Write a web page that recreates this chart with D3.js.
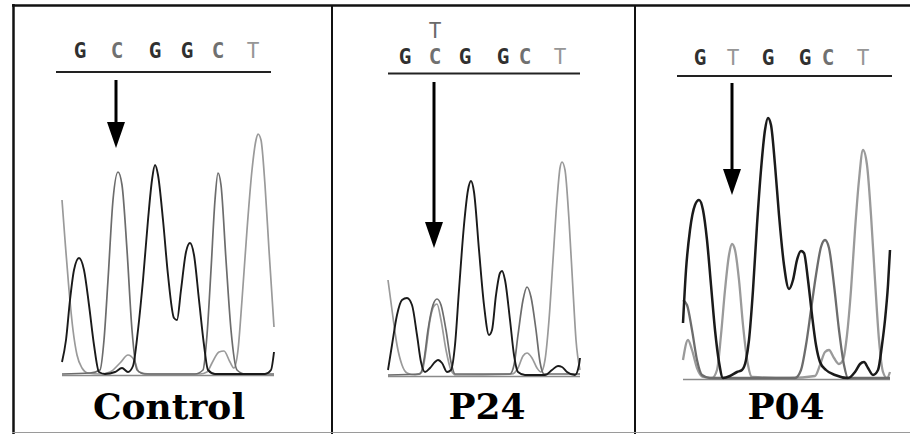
<!DOCTYPE html>
<html>
<head>
<meta charset="utf-8">
<script src="https://cdn.jsdelivr.net/npm/d3@7"></script>
<style>
  html, body { margin: 0; padding: 0; background: #fff; }
  svg { display: block; }
</style>
</head>
<body>
<svg id="chart" width="910" height="434"></svg>
<script>
// panel names
var panelLabels = ["Control", "P24", "P04"];

// base calls per panel (letters) and their scan positions
var calls1 = ["G", "C", "G", "G", "C", "T"];
var calls2 = ["G", "C", "G", "G", "C", "T"];
var calls3 = ["G", "T", "G", "G", "C", "T"];
var callPos1 = [18, 55, 93, 125, 156, 191];
var callPos2 = [17, 47, 77, 115, 137, 172];
var callPos3 = [17, 50, 85, 122, 145, 180];
// secondary call (heterozygous) : [index, letter]
var secondCall2 = [1, "T"];
// position of the variant pointed by the arrow
var variantIndex = 1;

// traces: [scan, signal]
var g1 = [[0,13],[4,35],[8,75],[12,105],[17,117],[22,105],[27,70],[32,30],[37,3],[43,1],[53,3],[60,7],[66,3],[71,9],[76,45],[81,95],[86,155],[90,195],[93,210],[96,200],[101,155],[106,100],[112,57],[115,55],[119,85],[124,123],[128,132],[132,120],[137,75],[142,30],[146,5],[153,1],[178,1],[203,1],[209,5],[212,23]];
var c1 = [[0,1],[28,2],[38,5],[42,35],[46,95],[51,175],[56,203],[60,190],[65,125],[70,45],[75,5],[83,1],[133,1],[141,5],[145,40],[149,105],[153,175],[156,202],[159,190],[164,115],[169,45],[175,5],[183,1],[212,1]];
var t1 = [[0,175],[3,135],[7,85],[11,45],[15,20],[20,7],[26,2],[38,1],[48,3],[58,12],[66,20],[72,15],[77,3],[88,1],[138,1],[145,3],[150,12],[157,23],[162,24],[168,13],[172,7],[176,25],[180,75],[185,145],[190,205],[194,235],[196,241],[199,235],[203,190],[207,125],[212,48]];

var g2 = [[0,6],[4,31],[9,61],[14,76],[19,78],[24,71],[29,41],[33,14],[37,4],[42,8],[47,14],[50,16],[54,13],[59,4],[63,6],[67,31],[71,86],[76,151],[80,186],[83,195],[86,184],[91,126],[96,71],[101,41],[104,46],[108,81],[112,103],[114,105],[117,96],[122,56],[126,21],[130,4],[137,1],[157,1],[164,6],[170,10],[174,9],[179,4],[187,1],[191,11],[192,18]];
var c2 = [[0,1],[32,2],[36,16],[40,46],[45,71],[49,77],[53,71],[58,46],[63,14],[67,2],[122,2],[126,11],[130,41],[135,76],[139,89],[143,79],[148,46],[152,14],[156,2],[192,2]];
var t2 = [[0,96],[4,66],[9,31],[14,11],[19,3],[27,1],[34,4],[38,26],[42,56],[46,70],[49,72],[53,56],[58,26],[63,6],[68,1],[124,2],[130,8],[135,20],[139,23],[144,18],[149,8],[153,4],[157,16],[161,56],[165,116],[169,176],[172,208],[174,214],[177,206],[181,156],[185,86],[188,36],[192,6]];

var g3 = [[0,56],[3,109],[7,149],[12,174],[16,179],[20,169],[24,139],[28,94],[32,49],[36,17],[40,1],[47,3],[54,7],[59,9],[63,19],[66,39],[70,89],[74,154],[78,209],[82,249],[85,261],[88,254],[92,214],[96,164],[101,114],[106,90],[110,99],[114,119],[118,128],[121,126],[125,99],[129,64],[133,34],[137,17],[143,9],[152,4],[165,1],[172,7],[177,15],[181,17],[185,11],[190,4],[195,9],[199,34],[202,59],[205,94],[207,129]];
var c3 = [[0,79],[4,74],[9,49],[14,19],[19,4],[27,1],[112,1],[118,9],[123,34],[128,69],[133,104],[138,132],[142,139],[146,131],[151,94],[156,49],[161,14],[165,1],[207,1]];
var t3 = [[0,19],[5,39],[9,29],[14,11],[20,2],[29,1],[34,9],[38,44],[42,89],[46,124],[49,135],[52,129],[56,99],[60,54],[65,14],[69,2],[107,1],[132,3],[137,14],[142,27],[146,29],[151,21],[156,15],[160,19],[164,44],[168,89],[172,149],[176,199],[180,229],[184,214],[188,164],[192,99],[196,39],[200,7],[204,1],[207,7]];

var svg = d3.select("#chart");
var colors = { G: "#1a1a1a", C: "#6c6c6c", T: "#9a9a9a" };
var letterColors = { G: "#303030", C: "#707070", T: "#969696" };

// frame of the figure
svg.append("line").attr("x1", 12).attr("x2", 910).attr("y1", 5.5).attr("y2", 5.5)
    .attr("stroke", "#111").attr("stroke-width", 2.5);
svg.append("line").attr("x1", 13.5).attr("x2", 13.5).attr("y1", 4).attr("y2", 434)
    .attr("stroke", "#111").attr("stroke-width", 2.5);
[332, 635].forEach(function (x) {
    svg.append("line").attr("x1", x).attr("x2", x).attr("y1", 5).attr("y2", 434)
        .attr("stroke", "#111").attr("stroke-width", 2);
});
svg.append("line").attr("x1", 12).attr("x2", 910).attr("y1", 432.5).attr("y2", 432.5)
    .attr("stroke", "#9a9a9a").attr("stroke-width", 1);

// layout of each panel (pixels)
var panels = [
    { label: panelLabels[0], calls: calls1, pos: callPos1, traces: { T: t1, C: c1, G: g1 }, second: null,
      x0: 62, x1: 274, scanMax: 212, base: 375, seqY: 58, ruleY: 72, ruleX: [56, 271],
      arrowTop: 80, arrowTip: 148, labelX: 169, width: 1.9 },
    { label: panelLabels[1], calls: calls2, pos: callPos2, traces: { T: t2, C: c2, G: g2 }, second: secondCall2,
      x0: 388, x1: 580, scanMax: 192, base: 376, seqY: 64, ruleY: 73.5, ruleX: [388, 580],
      arrowTop: 82, arrowTip: 248, labelX: 487, width: 1.9 },
    { label: panelLabels[2], calls: calls3, pos: callPos3, traces: { T: t3, C: c3, G: g3 }, second: null,
      x0: 683, x1: 890, scanMax: 207, base: 379, seqY: 65, ruleY: 76, ruleX: [677, 892],
      arrowTop: 83, arrowTip: 195, labelX: 786, width: 2.5 }
];

panels.forEach(function (p) {
    var g = svg.append("g");
    var x = d3.scaleLinear().domain([0, p.scanMax]).range([p.x0, p.x1]);
    var y = d3.scaleLinear().domain([0, 250]).range([p.base, p.base - 250]);

    // baseline
    g.append("line").attr("x1", x(0)).attr("x2", x(p.scanMax))
        .attr("y1", y(0) + 0.5).attr("y2", y(0) + 0.5)
        .attr("stroke", "#8a8a8a").attr("stroke-width", 1.5);

    var line = d3.line()
        .x(function (d) { return x(d[0]); })
        .y(function (d) { return y(d[1]); })
        .curve(d3.curveMonotoneX);

    ["T", "C", "G"].forEach(function (b) {
        g.append("path")
            .attr("d", line(p.traces[b]))
            .attr("fill", "none")
            .attr("stroke", colors[b])
            .attr("stroke-width", b == "G" ? p.width : p.width - 0.2)
            .attr("stroke-linejoin", "round");
    });

    // base calls
    g.selectAll(".call")
        .data(p.calls)
        .enter()
        .append("text")
        .attr("x", function (d, i) { return x(p.pos[i]); })
        .attr("y", p.seqY)
        .attr("text-anchor", "middle")
        .attr("font-family", "DejaVu Sans Mono, monospace")
        .attr("font-size", 21)
        .attr("font-weight", function (d) { return d == "T" ? "normal" : "bold"; })
        .attr("fill", function (d) { return letterColors[d]; })
        .text(function (d) { return d; });

    if (p.second) {
        g.append("text")
            .attr("x", x(p.pos[p.second[0]]))
            .attr("y", p.seqY - 26)
            .attr("text-anchor", "middle")
            .attr("font-family", "DejaVu Sans Mono, monospace")
            .attr("font-size", 21)
            .attr("fill", "#6a6a6a")
            .text(p.second[1]);
    }

    g.append("line").attr("x1", p.ruleX[0]).attr("x2", p.ruleX[1])
        .attr("y1", p.ruleY).attr("y2", p.ruleY)
        .attr("stroke", "#222").attr("stroke-width", 2);

    // arrow on the variant
    var ax = x(p.pos[variantIndex]) - 1;
    g.append("line").attr("x1", ax).attr("x2", ax)
        .attr("y1", p.arrowTop).attr("y2", p.arrowTip - 20)
        .attr("stroke", "#000").attr("stroke-width", 3);
    g.append("path")
        .attr("d", "M" + (ax - 9) + "," + (p.arrowTip - 26) + "L" + (ax + 9) + "," + (p.arrowTip - 26) + "L" + ax + "," + p.arrowTip + "Z")
        .attr("fill", "#000");

    g.append("text")
        .attr("x", p.labelX)
        .attr("y", 419)
        .attr("text-anchor", "middle")
        .attr("font-family", "DejaVu Serif, serif")
        .attr("font-weight", "bold")
        .attr("font-size", 36)
        .attr("fill", "#000")
        .text(p.label);
});
</script>
</body>
</html>
